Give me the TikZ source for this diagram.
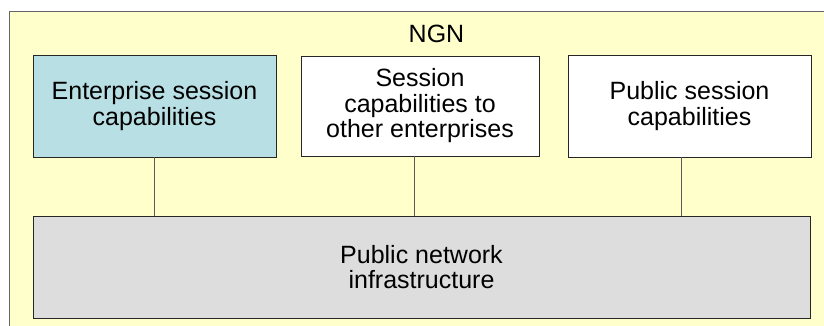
\documentclass[tikz,border=0pt]{standalone}
\usepackage{fontspec}
\setmainfont{Liberation Sans}
\usetikzlibrary{shadows}
\definecolor{ngnyellow}{HTML}{FFFFCC}
\definecolor{entcyan}{HTML}{B8DFE3}
\definecolor{pnigray}{HTML}{DDDDDD}
\definecolor{framegray}{HTML}{666666}
\begin{document}
\begin{tikzpicture}[x=1pt,y=1pt,
  boxstyle/.style={draw=black!85, line width=0.9pt, align=center, inner sep=0pt,
    font=\fontsize{25}{25.5}\selectfont,
    drop shadow={shadow xshift=0.8pt, shadow yshift=-0.8pt, fill=black!55, opacity=1}},
  linkstyle/.style={draw=black!65, line width=0.9pt}]
\useasboundingbox (0,0) rectangle (824,-326);
\clip (0,0) rectangle (824,-326);
\node[draw=framegray, line width=1pt, fill=ngnyellow, minimum width=830pt, minimum height=330pt, anchor=north west, inner sep=0pt] (ngn) at (9,-11) {};
\node[font=\fontsize{25}{25.5}\selectfont, inner sep=0pt] (ngnlabel) at (436.5,-34) {NGN};
\node[boxstyle, fill=entcyan, minimum width=243pt, minimum height=102pt] (ent) at (154.5,-106) {Enterprise session\\capabilities};
\node[boxstyle, fill=white, minimum width=238pt, minimum height=100pt] (mid) at (420,-106) {Session\\capabilities to\\other enterprises};
\node[boxstyle, fill=white, minimum width=243pt, minimum height=102pt] (pub) at (689.5,-106) {Public session\\capabilities};
\node[boxstyle, fill=pnigray, minimum width=777pt, minimum height=102pt] (pni) at (421.5,-267) {Public network\\infrastructure};
\draw[linkstyle] (ent.south) -- (ent.south |- pni.north);
\draw[linkstyle] ([xshift=-6pt]mid.south) -- ([xshift=-6pt]mid.south |- pni.north);
\draw[linkstyle] ([xshift=-8.5pt]pub.south) -- ([xshift=-8.5pt]pub.south |- pni.north);
\end{tikzpicture}
\end{document}
